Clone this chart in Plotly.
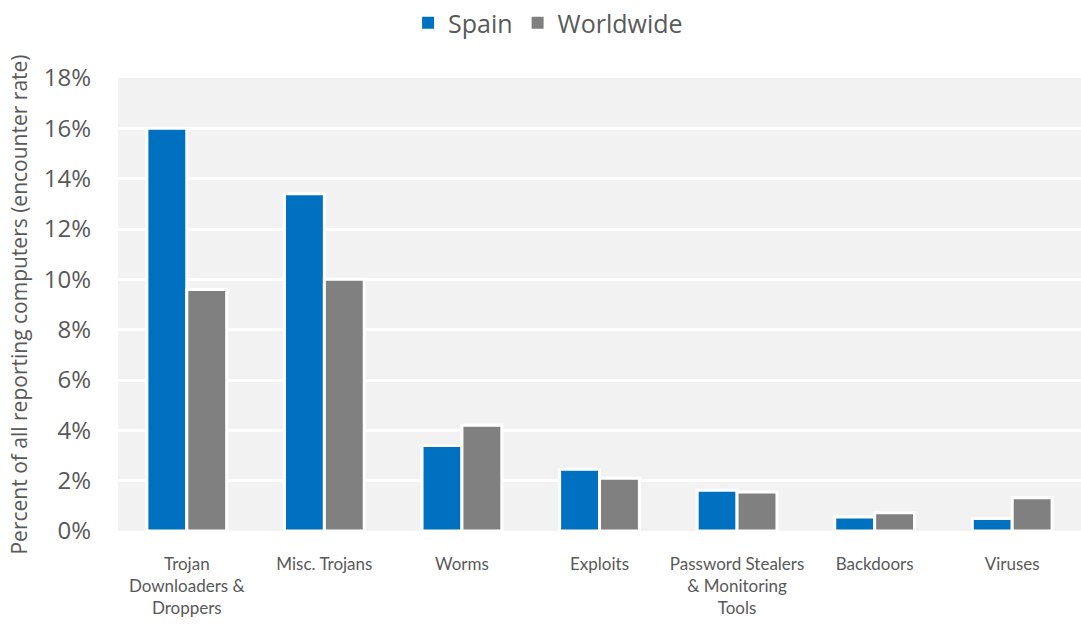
import plotly.graph_objects as go

categories = ["Trojan<br>Downloaders &<br>Droppers", "Misc. Trojans", "Worms", "Exploits",
              "Password Stealers<br>& Monitoring<br>Tools", "Backdoors", "Viruses"]
spain = [16.0, 13.4, 3.4, 2.45, 1.62, 0.56, 0.5]
worldwide = [9.6, 10.0, 4.2, 2.1, 1.55, 0.73, 1.32]
series_names = ["Spain", "Worldwide"]
series_colors = ["#0070C0", "#808080"]
y_ticks = [0, 2, 4, 6, 8, 10, 12, 14, 16, 18]
y_tick_labels = [f"{v}%" for v in y_ticks]

fig = go.Figure()
for name, vals, col in zip(series_names, [spain, worldwide], series_colors):
    fig.add_trace(go.Bar(name=name, x=categories, y=vals, showlegend=False,
                         marker=dict(color=col, line=dict(color="white", width=3))))
# legend entries with solid square swatches
for name, col in zip(series_names, series_colors):
    fig.add_trace(go.Scatter(name=name, x=[None], y=[None], mode="markers",
                             marker=dict(symbol="square", size=12, color=col,
                                         line=dict(width=0))))

fig.update_layout(
    width=1081, height=632,
    margin=dict(l=118, r=0, t=78, b=101),
    paper_bgcolor="white", plot_bgcolor="#F2F2F2",
    barmode="group", bargap=0.42, bargroupgap=0,
    font=dict(family="Open Sans", color="#595959"),
    legend=dict(orientation="h", x=0.507, xanchor="center", xref="container",
                y=1.0, yanchor="top", yref="container",
                font=dict(size=25, color="#595959"), traceorder="normal",
                itemsizing="constant"),
    xaxis=dict(showgrid=False, tickfont=dict(family="Lato", size=17, color="#595959"),
               ticks="", showline=False, ticklabelstandoff=21),
    yaxis=dict(range=[0, 18], tickvals=y_ticks, ticktext=y_tick_labels,
               showgrid=True, gridcolor="white", gridwidth=3, zeroline=False,
               tickfont=dict(size=24, color="#595959"), ticks="", ticklabelstandoff=26,
               title=dict(text="Percent of all reporting computers (encounter rate)",
                          font=dict(size=21, color="#595959"), standoff=10)),
)
fig.write_html("out.html")
